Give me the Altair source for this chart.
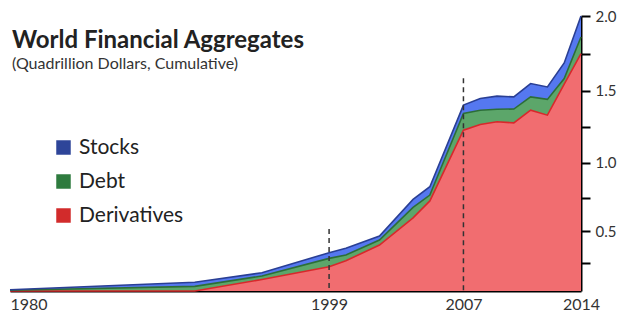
import altair as alt
import pandas as pd

# ---- data (quadrillion dollars) ----
years = [1980, 1991, 1995, 1999, 2000, 2002, 2004, 2005, 2007, 2008, 2009, 2010, 2011, 2012, 2013, 2014]
derivatives = [0.0, 0.0, 0.112, 0.220, 0.269, 0.393, 0.600, 0.725, 1.228, 1.268, 1.286, 1.279, 1.366, 1.332, 1.544, 1.750]
debt = [0.009, 0.049, 0.030, 0.068, 0.046, 0.039, 0.078, 0.043, 0.116, 0.098, 0.087, 0.095, 0.091, 0.108, 0.038, 0.111]
stocks = [0.006, 0.038, 0.028, 0.045, 0.053, 0.031, 0.058, 0.060, 0.057, 0.080, 0.089, 0.083, 0.091, 0.085, 0.105, 0.139]

series_names = ["Derivatives", "Debt", "Stocks"]
fill_colors = ["#F16D70", "#5CA66A", "#5578F0"]
stroke_colors = ["#D8282B", "#2C6E37", "#2A3F94"]
legend_order = ["Stocks", "Debt", "Derivatives"]
legend_colors = ["#2E4599", "#2E7B3E", "#D22B2B"]

marker_years = [1999, 2007]
marker_tops = [0.516, 1.584]

x_ticks = [1980, 1999, 2007, 2014]
y_ticks = [0.25, 0.5, 0.75, 1.0, 1.25, 1.5, 1.75, 2.0]

title_text = "World Financial Aggregates"
subtitle_text = "(Quadrillion Dollars, Cumulative)"

# ---- build cumulative table ----
rows = []
for i, yr in enumerate(years):
    lower = 0.0
    for name, vals in zip(series_names, [derivatives, debt, stocks]):
        upper = lower + vals[i]
        rows.append({"year": yr, "series": name, "lower": lower, "upper": upper})
        lower = upper
df = pd.DataFrame(rows)

markers = pd.DataFrame({"year": marker_years, "upper": marker_tops, "lower": [0.0] * len(marker_years)})

FONT = "Lato"

x_scale = alt.Scale(domain=[1980, 2014], nice=False, zero=False)
y_scale = alt.Scale(type="pow", exponent=1.1, domain=[0, 2], nice=False)

def x_axis():
    return alt.Axis(values=x_ticks, format="d", title=None, grid=False, ticks=False,
                    domainColor="#000", domainWidth=2, labelFont=FONT, labelFontSize=16,
                    labelColor="#333", labelPadding=5,
                    labelAlign={"condition": {"test": "datum.value == 1980", "value": "left"},
                                "value": "center"})

def y_axis():
    return alt.Axis(orient="right", values=y_ticks, title=None, grid=False,
                    labelExpr="(datum.value * 2) % 1 == 0 ? format(datum.value, '.1f') : ''",
                    ticks=True, tickSize=9, tickWidth=2, tickColor="#000",
                    domain=True, domainColor="#000", domainWidth=2,
                    labelFont=FONT, labelFontSize=15, labelColor="#333", labelPadding=5)

def xy():
    return dict(x=alt.X("year:Q", scale=x_scale, axis=x_axis()),
                y=alt.Y("upper:Q", scale=y_scale, axis=y_axis()))

areas = alt.Chart(df).mark_area(opacity=1).encode(
    **xy(),
    y2="lower:Q",
    fill=alt.Fill("series:N", scale=alt.Scale(domain=series_names, range=fill_colors), legend=None),
)

lines = alt.Chart(df).mark_line(strokeWidth=1.6).encode(
    **xy(),
    stroke=alt.Stroke("series:N", scale=alt.Scale(domain=series_names, range=stroke_colors), legend=None),
)

rules = alt.Chart(markers).mark_rule(strokeDash=[5, 4], strokeWidth=1.5, color="#333").encode(
    **xy(), y2="lower:Q"
)

legend_layer = alt.Chart(pd.DataFrame({"series": legend_order})).mark_square(opacity=0).encode(
    x=alt.value(0), y=alt.value(0),
    color=alt.Color("series:N", scale=alt.Scale(domain=legend_order, range=legend_colors),
                    legend=alt.Legend(orient="none", legendX=43, legendY=121, title=None,
                                      symbolType="square", symbolSize=210, symbolOpacity=1,
                                      symbolStrokeWidth=0, labelFont=FONT, labelFontSize=21,
                                      labelColor="#222", labelOffset=5, rowPadding=12, padding=0)),
)

title = alt.Chart(pd.DataFrame({"t": [title_text]})).mark_text(
    align="left", baseline="alphabetic", font=FONT, fontSize=24, fontWeight="bold", color="#222"
).encode(x=alt.value(2), y=alt.value(32), text="t:N")

subtitle = alt.Chart(pd.DataFrame({"t": [subtitle_text]})).mark_text(
    align="left", baseline="alphabetic", font=FONT, fontSize=16, color="#333"
).encode(x=alt.value(2), y=alt.value(53), text="t:N")

chart = alt.layer(areas, lines, rules, legend_layer, title, subtitle).properties(
    width=571, height=275,
    autosize=alt.AutoSizeParams(type="none"),
    padding={"left": 2, "top": 8, "right": 39, "bottom": 25},
).configure_view(stroke=None)

chart.save("out.html", embed_options={"renderer": "svg", "actions": False})
